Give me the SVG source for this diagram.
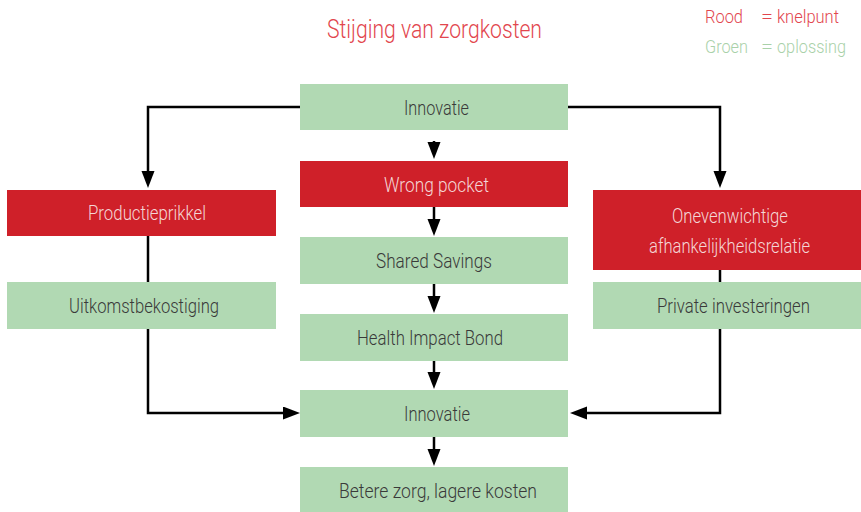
<svg xmlns="http://www.w3.org/2000/svg" width="861" height="512" viewBox="0 0 861 512">
  <style>
    text { font-family: Roboto, "Liberation Sans", "DejaVu Sans", sans-serif; font-weight: 300; }
    .ok { fill: #b1d9b3; }
    .bad { fill: #cf2029; }
    .lbl { font-size: 20px; text-anchor: middle; }
    .ok-t { fill: #3a3a3a; }
    .bad-t { fill: #f4d6d6; }
    .wire { fill: none; stroke: #000; stroke-width: 2.5; }
    .title { font-size: 25px; fill: #e2464e; text-anchor: middle; }
    .key { font-size: 19px; }
  </style>
  <defs>
    <marker id="head" markerUnits="userSpaceOnUse" markerWidth="18" markerHeight="14" refX="0" refY="6.5" orient="auto">
      <path d="M0,0 L17,6.5 L0,13 Z" fill="#000"/>
    </marker>
  </defs>

  <rect width="861" height="512" fill="#fff"/>

  <!-- heading and colour key -->
  <text class="title" x="434.5" y="38" textLength="215" lengthAdjust="spacingAndGlyphs">Stijging van zorgkosten</text>
  <g class="key">
    <text x="705" y="23" fill="#e2464e" textLength="38" lengthAdjust="spacingAndGlyphs">Rood</text>
    <text x="761" y="23" fill="#e2464e" textLength="12" lengthAdjust="spacingAndGlyphs">=</text>
    <text x="777" y="23" fill="#e2464e" textLength="62" lengthAdjust="spacingAndGlyphs">knelpunt</text>
    <text x="705" y="53" fill="#a9d1a9" textLength="43" lengthAdjust="spacingAndGlyphs">Groen</text>
    <text x="761" y="53" fill="#a9d1a9" textLength="12" lengthAdjust="spacingAndGlyphs">=</text>
    <text x="777" y="53" fill="#a9d1a9" textLength="69" lengthAdjust="spacingAndGlyphs">oplossing</text>
  </g>

  <!-- connectors -->
  <g id="connectors">
    <path class="wire" d="M300,107 H148 V171" marker-end="url(#head)"/>
    <path class="wire" d="M568,107 H720 V171" marker-end="url(#head)"/>
    <path class="wire" d="M434,141 V142" marker-end="url(#head)"/>
    <path class="wire" d="M434,207 V219" marker-end="url(#head)"/>
    <path class="wire" d="M434,284 V296" marker-end="url(#head)"/>
    <path class="wire" d="M434,361 V372" marker-end="url(#head)"/>
    <path class="wire" d="M434,437 V449" marker-end="url(#head)"/>
    <path class="wire" d="M148,236 V282"/>
    <path class="wire" d="M148,329 V413 H283" marker-end="url(#head)"/>
    <path class="wire" d="M720,270 V282"/>
    <path class="wire" d="M720,329 V413 H587" marker-end="url(#head)"/>
  </g>

  <!-- centre column -->
  <g id="innovatie-top">
    <rect class="ok" x="300" y="84" width="268" height="46"/>
    <text class="lbl ok-t" x="436.5" y="115" textLength="65" lengthAdjust="spacingAndGlyphs">Innovatie</text>
  </g>
  <g id="wrong-pocket">
    <rect class="bad" x="300" y="161" width="268" height="46"/>
    <text class="lbl bad-t" x="436.5" y="192" textLength="105" lengthAdjust="spacingAndGlyphs">Wrong pocket</text>
  </g>
  <g id="shared-savings">
    <rect class="ok" x="300" y="237" width="268" height="47"/>
    <text class="lbl ok-t" x="434" y="268" textLength="116" lengthAdjust="spacingAndGlyphs">Shared Savings</text>
  </g>
  <g id="health-impact-bond">
    <rect class="ok" x="300" y="314" width="268" height="47"/>
    <text class="lbl ok-t" x="430" y="345" textLength="146" lengthAdjust="spacingAndGlyphs">Health Impact Bond</text>
  </g>
  <g id="innovatie-bottom">
    <rect class="ok" x="300" y="390" width="268" height="47"/>
    <text class="lbl ok-t" x="437" y="421" textLength="66" lengthAdjust="spacingAndGlyphs">Innovatie</text>
  </g>
  <g id="betere-zorg">
    <rect class="ok" x="300" y="467" width="268" height="46"/>
    <text class="lbl ok-t" x="438" y="498" textLength="198" lengthAdjust="spacingAndGlyphs">Betere zorg, lagere kosten</text>
  </g>

  <!-- left column -->
  <g id="productieprikkel">
    <rect class="bad" x="7" y="190" width="269" height="46"/>
    <text class="lbl bad-t" x="147" y="220" textLength="118" lengthAdjust="spacingAndGlyphs">Productieprikkel</text>
  </g>
  <g id="uitkomstbekostiging">
    <rect class="ok" x="7" y="282" width="269" height="47"/>
    <text class="lbl ok-t" x="144" y="313" textLength="150" lengthAdjust="spacingAndGlyphs">Uitkomstbekostiging</text>
  </g>

  <!-- right column -->
  <g id="afhankelijkheid">
    <rect class="bad" x="593" y="190" width="268" height="80"/>
    <text class="lbl bad-t" x="730" y="222.5" textLength="116" lengthAdjust="spacingAndGlyphs">Onevenwichtige</text>
    <text class="lbl bad-t" x="729.5" y="252.5" textLength="161" lengthAdjust="spacingAndGlyphs">afhankelijkheidsrelatie</text>
  </g>
  <g id="private-investeringen">
    <rect class="ok" x="593" y="282" width="268" height="47"/>
    <text class="lbl ok-t" x="733.5" y="313" textLength="153" lengthAdjust="spacingAndGlyphs">Private investeringen</text>
  </g>
</svg>
